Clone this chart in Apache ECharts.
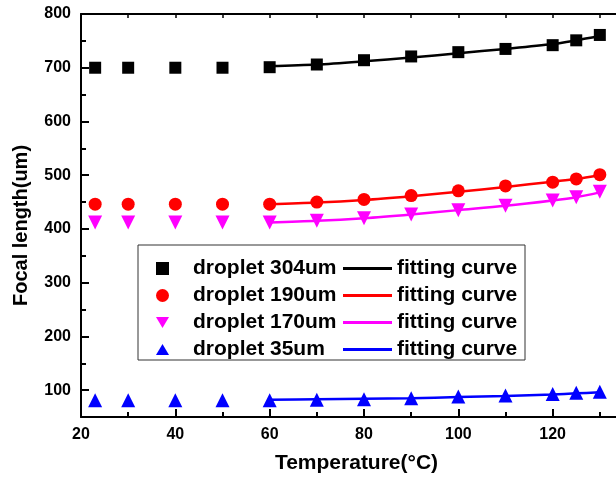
<!DOCTYPE html>
<html>
<head>
<meta charset="utf-8">
<script src="https://cdn.jsdelivr.net/npm/echarts@6/dist/echarts.min.js"></script>
<style>html,body{margin:0;padding:0;background:#fff}#c{width:616px;height:478px}</style>
</head>
<body>
<div id="c"></div>
<script>
// ---- data ----
const temps = [23, 30, 40, 50, 60, 70, 80, 90, 100, 110, 120, 125, 130];
const fitTemps = [60, 70, 80, 90, 100, 110, 120, 125, 130];
const d304 = [700, 700, 700, 700, 701, 706, 714, 721, 729, 735, 742, 751, 761];
const d190 = [446, 446, 446, 446, 446, 450, 455, 462, 471, 480, 487, 493, 501];
const d170 = [412, 412, 412, 412, 412, 415, 420, 427, 435, 443, 453, 459, 469];
const d35  = [81, 81, 81, 81, 81, 82, 83, 85, 88, 90, 93, 95, 97];
const fit304 = [703, 706, 712, 719, 727, 735, 744, 751, 759];
const fit190 = [446, 449, 454, 461, 469, 478, 488, 493, 500];
const fit170 = [412, 415, 420, 427, 435, 443, 453, 459, 468];
const fit35  = [82, 83, 84, 85, 87, 89, 92, 94, 96];
const yLabels = [100, 200, 300, 400, 500, 600, 700, 800];
const yMinor = [150, 250, 350, 450, 550, 650, 750];
const legendPoints = ['droplet 304um', 'droplet 190um', 'droplet 170um', 'droplet 35um'];
const legendFits = ['fit304', 'fit190', 'fit170', 'fit35'];
const colors = ['#000000', '#ff0000', '#ff00ff', '#0000ff'];

const pair = (xs, ys) => xs.map((x, i) => [x, ys[i]]);
const FONT = 'Liberation Sans';

const chart = echarts.init(document.getElementById('c'), null, {renderer: 'canvas'});
const pointSeries = [d304, d190, d170, d35];
const fitSeries = [fit304, fit190, fit170, fit35];
const symbols = ['rect', 'circle', 'triangle', 'triangle'];
const legendIcons = ['path://M0,0L10,0L10,10L0,10Z', 'circle', 'path://M0,0L14,0L7,12Z', 'path://M7,0L14,12L0,12Z'];
const sizes = [12, 13, 14, 14];
const rots = [0, 0, 180, 0];

const series = [];
pointSeries.forEach((ys, i) => {
  series.push({
    name: legendPoints[i], type: 'scatter', data: pair(temps, ys),
    symbol: symbols[i], symbolSize: sizes[i], symbolRotate: rots[i],
    itemStyle: {color: colors[i], opacity: 1}, z: 3
  });
});
fitSeries.forEach((ys, i) => {
  series.push({
    name: legendFits[i], type: 'line', data: pair(fitTemps, ys),
    symbol: 'none', showSymbol: false, smooth: 0.3,
    lineStyle: {color: colors[i], width: 2.5}, itemStyle: {color: colors[i]}, z: 2
  });
});

const axisLine = {show: true, lineStyle: {color: '#000', width: 2}};
chart.setOption({
  animation: false,
  backgroundColor: '#fff',
  grid: {left: 81, top: 14, right: -31, bottom: 61, outerBoundsMode: 'none', containLabel: false},
  xAxis: [{
    type: 'value', min: 20, max: 140, interval: 20, position: 'bottom',
    axisLine: axisLine,
    axisTick: {show: true, inside: true, length: 8, lineStyle: {color: '#000', width: 2}},
    minorTick: {show: true, splitNumber: 2, length: 5, lineStyle: {color: '#000', width: 2}},
    splitLine: {show: false},
    axisLabel: {color: '#000', fontFamily: FONT, fontWeight: 'bold', fontSize: 16, margin: 10},
    name: 'Temperature(°C)', nameLocation: 'middle', nameGap: 36,
    nameTextStyle: {color: '#000', fontFamily: FONT, fontWeight: 'bold', fontSize: 21, padding: [0, 15, 0, 0]}
  }, {
    type: 'value', min: 20, max: 140, interval: 10, position: 'top',
    axisLine: axisLine,
    axisTick: {show: true, inside: true, length: 4, lineStyle: {color: '#000', width: 1.5}},
    axisLabel: {show: false}, splitLine: {show: false}
  }],
  yAxis: [{
    type: 'value', min: 50, max: 800, position: 'left',
    axisLine: axisLine,
    axisTick: {show: true, inside: true, length: 8, customValues: yLabels, lineStyle: {color: '#000', width: 2}},
    axisLabel: {color: '#000', fontFamily: FONT, fontWeight: 'bold', fontSize: 16, margin: 10, customValues: yLabels},
    splitLine: {show: false},
    name: 'Focal length(um)', nameLocation: 'middle', nameGap: 50,
    nameTextStyle: {color: '#000', fontFamily: FONT, fontWeight: 'bold', fontSize: 20, padding: [0, 20, 0, 0]}
  }, {
    type: 'value', min: 50, max: 800, position: 'left',
    axisLine: {show: false},
    axisTick: {show: true, inside: true, length: 5, customValues: yMinor, lineStyle: {color: '#000', width: 2}},
    axisLabel: {show: false}, splitLine: {show: false}
  }],
  graphic: [{
    type: 'rect', z: 1,
    shape: {x: 138, y: 245, width: 387, height: 115},
    style: {fill: '#fff', stroke: '#333', lineWidth: 1}
  }],
  legend: [{
    data: legendPoints.map((n, i) => ({name: n, icon: legendIcons[i]})),
    orient: 'vertical', left: 156, top: 255, padding: 0,
    itemWidth: 13, itemHeight: 13, itemGap: 0, z: 5,
    textStyle: {color: '#000', fontFamily: FONT, fontWeight: 'bold', fontSize: 21, lineHeight: 27, padding: [0, 0, 0, 19]}
  }, {
    data: legendFits.map(n => ({name: n, icon: 'path://M0,0L49,0L49,3L0,3Z'})),
    orient: 'vertical', left: 343, top: 255, padding: 0,
    itemWidth: 49, itemHeight: 13, itemGap: 0, z: 5,
    formatter: () => 'fitting curve',
    textStyle: {color: '#000', fontFamily: FONT, fontWeight: 'bold', fontSize: 21, lineHeight: 27}
  }],
  series: series
});
</script>
</body>
</html>
